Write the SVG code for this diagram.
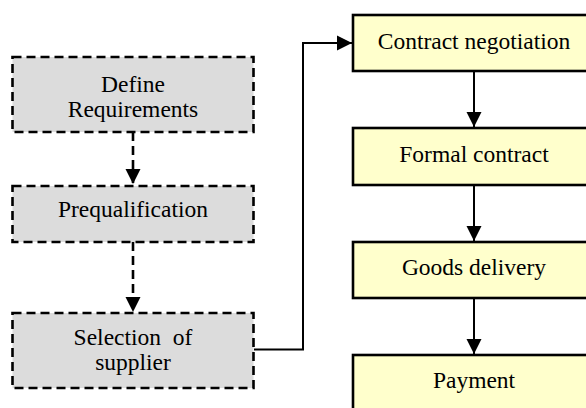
<svg xmlns="http://www.w3.org/2000/svg" width="586" height="408" viewBox="0 0 586 408">
<style>
.gray rect{fill:#dcdcdc;stroke:#000;stroke-width:2.6;stroke-dasharray:9 5}
.yel rect{fill:#ffffcc;stroke:#000;stroke-width:2.6}
text{font-family:"Liberation Serif","Times New Roman",serif;font-size:23.5px;fill:#000;text-anchor:middle}
.conn path{fill:none;stroke:#000;stroke-width:2}
.conn .dash{stroke-dasharray:9 5;stroke-width:2.6}
</style>
<defs>
<marker id="ah" markerUnits="userSpaceOnUse" markerWidth="16" markerHeight="16" viewBox="0 0 16 16" refX="15" refY="8" orient="auto">
<path d="M0,0.5 L15,8 L0,15.5 Z" fill="#000"/>
</marker>
</defs>
<rect width="586" height="408" fill="#fff"/>
<g class="conn">
<path class="dash" d="M133,132 V184" marker-end="url(#ah)"/>
<path class="dash" d="M133,242 V312" marker-end="url(#ah)"/>
<path d="M254,349.5 H303 V43 H352" marker-end="url(#ah)"/>
<path d="M474,71 V127" marker-end="url(#ah)"/>
<path d="M474,185 V241" marker-end="url(#ah)"/>
<path d="M474,298 V354" marker-end="url(#ah)"/>
</g>
<g id="define" class="gray"><rect x="12.5" y="57" width="241" height="75"/><text x="133" y="92">Define</text><text x="133" y="117">Requirements</text></g>
<g id="prequal" class="gray"><rect x="12.5" y="186" width="241" height="56"/><text x="133" y="217">Prequalification</text></g>
<g id="selection" class="gray"><rect x="12.5" y="313" width="241" height="75"/><text x="133" y="345" xml:space="preserve">Selection  of</text><text x="133" y="370">supplier</text></g>
<g id="negotiation" class="yel"><rect x="353" y="15" width="242" height="56"/><text x="474" y="49">Contract negotiation</text></g>
<g id="formal" class="yel"><rect x="353" y="128" width="242" height="57"/><text x="474" y="162">Formal contract</text></g>
<g id="goods" class="yel"><rect x="353" y="242" width="242" height="56"/><text x="474" y="275">Goods delivery</text></g>
<g id="payment" class="yel"><rect x="353" y="355" width="242" height="60"/><text x="474" y="388">Payment</text></g>
</svg>
